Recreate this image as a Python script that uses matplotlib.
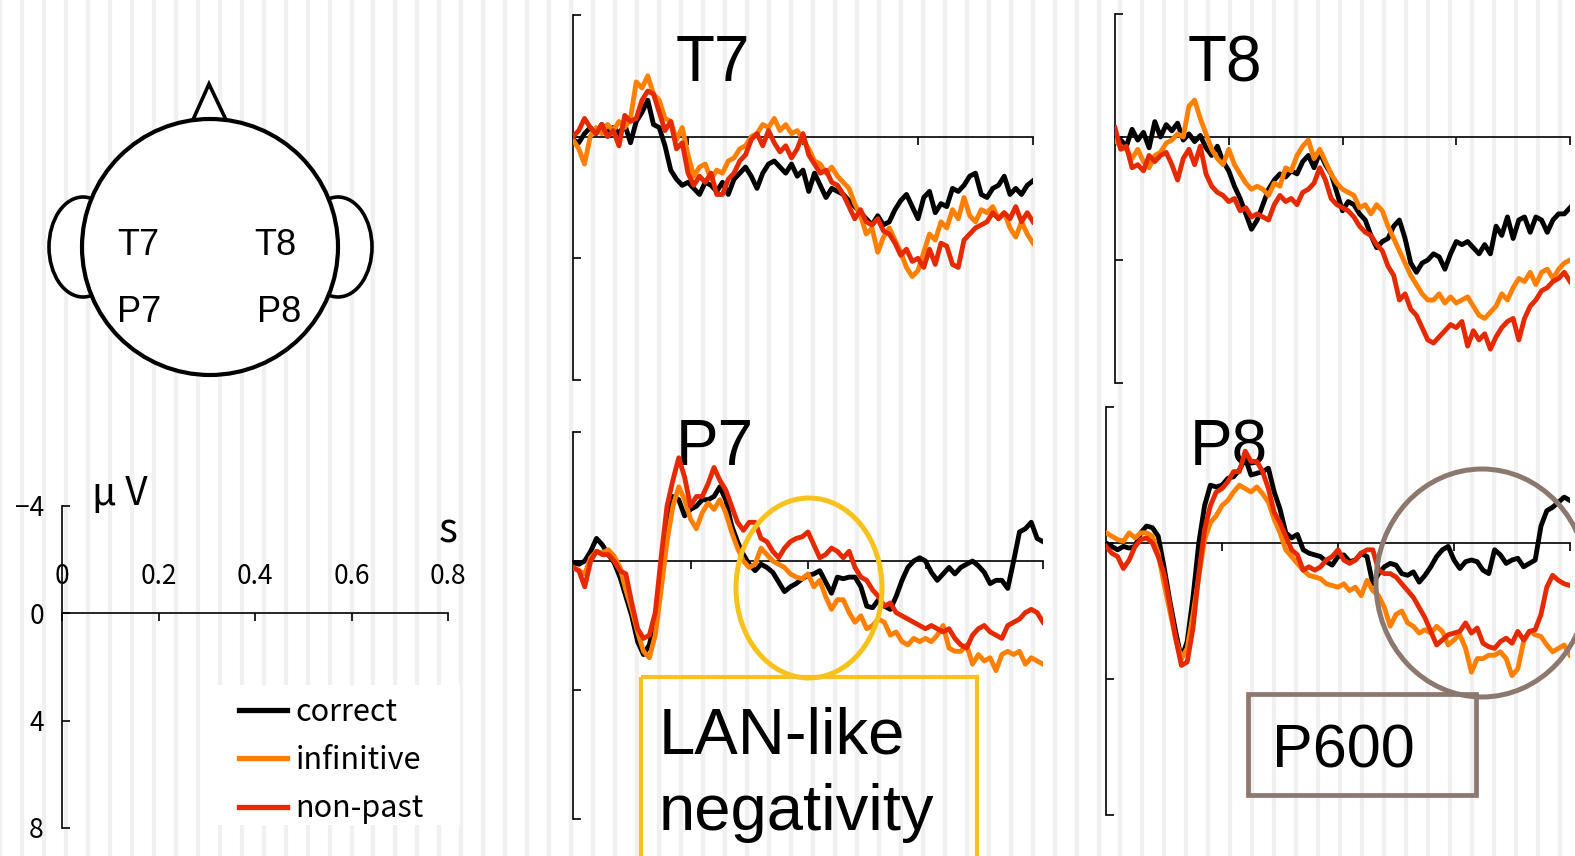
import numpy as np
import matplotlib
matplotlib.use('Agg')
import matplotlib.pyplot as plt
from matplotlib.patches import Ellipse, Rectangle, Polygon
from matplotlib.lines import Line2D

plt.rcParams['font.family'] = ['Liberation Sans', 'DejaVu Sans']
JP = ['Noto Sans CJK JP', 'DejaVu Sans']

W, H = 1575, 856

# time axis (s), one sample every 10 ms
times = np.round(np.arange(81) * 0.01, 2)

conditions = ['correct', 'infinitive', 'non-past']
colors = ['#000000', '#FF8000', '#E62A00']

# amplitudes in microvolts (negative plotted up)
t7_correct = [0.1, 0.2, -0.1, -0.3, -0.1, -0.4, -0.2, -0.3, -0.1, -0.4,
              0.2, -0.5, -0.8, -1.2, -0.4, -0.3, 0.3, 1.1, 1.4, 1.6,
              1.5, 1.7, 1.9, 1.5, 1.6, 1.8, 1.5, 1.9, 1.4, 1.2,
              1.0, 1.3, 1.7, 1.2, 0.9, 0.8, 1.0, 1.2, 0.9, 1.3,
              1.1, 1.8, 1.2, 1.6, 2.0, 1.7, 1.8, 1.9, 2.1, 2.3,
              2.5, 2.7, 2.9, 2.6, 2.9, 2.8, 2.4, 2.1, 1.9, 2.3,
              2.7, 2.0, 1.8, 2.5, 2.2, 2.3, 1.7, 1.8, 1.6, 1.3,
              1.2, 1.9, 2.0, 1.7, 1.6, 1.3, 1.9, 1.7, 1.9, 1.6,
              1.45]
t7_infinitive = [0.1, 0.4, 0.9, 0.0, -0.3, -0.1, -0.4, -0.2, -0.5, -0.3,
                 -0.6, -1.8, -1.6, -2.0, -1.4, -1.2, -0.6, -0.5, 0.1, -0.3,
                 0.6, 1.3, 1.0, 0.9, 1.4, 1.1, 1.2, 0.8, 0.7, 0.4,
                 0.3, 0.0, -0.1, -0.4, -0.3, -0.6, -0.2, -0.4, -0.1, -0.2,
                 0.1, 0.4, 0.8, 0.9, 1.2, 1.0, 1.3, 1.5, 1.7, 2.2,
                 2.6, 3.2, 3.0, 3.8, 3.3, 3.0, 3.4, 3.8, 4.3, 4.6,
                 4.4, 3.8, 3.2, 3.4, 2.8, 3.0, 2.4, 2.7, 2.0, 2.6,
                 2.8, 2.4, 2.5, 2.3, 2.7, 2.5, 3.0, 3.3, 2.8, 3.2,
                 3.5]
t7_nonpast = [0.0, -0.2, -0.6, -0.3, -0.1, -0.4, 0.0, -0.2, 0.3, -0.7,
              -0.5, -0.6, -1.2, -1.5, -1.4, -0.8, -0.2, -0.5, 0.4, 0.2,
              1.2, 1.6, 1.3, 1.5, 1.2, 1.9, 1.9, 1.4, 1.2, 0.8,
              0.6, 0.1, -0.1, 0.3, -0.2, 0.2, 0.5, 0.3, 0.7, 0.4,
              -0.1, 0.6, 0.9, 1.2, 1.1, 1.5, 1.6, 1.9, 2.3, 2.7,
              2.4, 2.8, 2.9, 2.7, 3.1, 3.2, 3.5, 3.9, 3.7, 4.1,
              4.0, 4.3, 3.7, 4.2, 3.5, 3.6, 4.2, 4.3, 3.4, 3.2,
              3.0, 2.9, 2.8, 2.5, 2.7, 2.5, 2.7, 2.3, 2.8, 2.5,
              2.8]

t8_correct = [0.2, 0.1, 0.3, -0.25, 0.1, -0.15, 0.35, -0.5, 0.0, -0.4,
              -0.2, -0.45, 0.1, -0.1, 0.15, -0.05, 0.35, 0.6, 0.3, 0.8,
              1.1, 1.6, 2.0, 2.5, 3.0, 2.7, 2.2, 1.7, 1.4, 1.2,
              1.3, 1.1, 1.2, 0.8, 0.6, 1.0, 0.5, 0.9, 1.2, 1.8,
              2.4, 2.1, 2.2, 2.5, 2.7, 3.2, 3.6, 3.4, 3.3, 2.9,
              2.7, 3.3, 4.1, 4.4, 4.1, 4.0, 3.8, 3.9, 4.3, 3.8,
              3.4, 3.5, 3.4, 3.6, 3.8, 3.5, 3.8, 2.9, 3.2, 2.6,
              3.3, 2.7, 2.6, 3.1, 2.6, 2.7, 3.1, 2.7, 2.5, 2.5,
              2.3]
t8_infinitive = [0.1, 0.3, 0.4, 0.7, 0.4, 0.8, 1.0, 0.6, 0.5, 0.2,
                 0.1, -0.1, 0.0, -1.0, -1.2, -0.6, -0.1, 0.4, 0.7, 0.9,
                 0.4, 0.9, 1.2, 1.5, 1.7, 1.6, 1.7, 1.9, 1.5, 1.6,
                 1.0, 1.1, 0.6, 0.3, 0.1, 0.7, 0.4, 0.8, 1.2, 1.5,
                 1.7, 1.8, 1.9, 2.3, 2.2, 2.5, 2.2, 2.4, 2.9, 3.3,
                 3.7, 4.1, 4.5, 4.8, 5.1, 5.3, 5.3, 5.1, 5.4, 5.2,
                 5.4, 5.3, 5.2, 5.5, 5.8, 5.9, 5.7, 5.5, 5.1, 5.3,
                 4.9, 4.6, 4.7, 4.4, 4.8, 4.4, 4.3, 4.6, 4.3, 4.1,
                 4.0]
t8_nonpast = [-0.3, 0.4, 0.3, 1.0, 0.9, 1.1, 0.6, 0.8, 0.6, 0.5,
              0.9, 1.4, 0.7, 0.4, 0.9, 0.3, 1.2, 1.6, 1.8, 1.9,
              2.1, 2.0, 2.4, 2.3, 2.6, 2.5, 2.6, 2.7, 2.2, 1.9,
              2.1, 2.0, 2.2, 1.8, 1.7, 1.5, 1.0, 1.4, 2.0, 2.2,
              2.3, 2.4, 2.6, 2.9, 3.1, 3.2, 3.5, 3.7, 4.2, 4.5,
              5.3, 5.1, 5.6, 5.8, 6.2, 6.6, 6.7, 6.5, 6.3, 6.1,
              6.2, 6.0, 6.8, 6.3, 6.6, 6.4, 6.9, 6.5, 6.2, 6.0,
              5.9, 6.6, 5.9, 5.5, 5.3, 5.0, 4.9, 4.7, 4.6, 4.4,
              4.7]

p7_correct = [0.05, 0.1, 0.0, -0.3, -0.7, -0.5, -0.2, 0.05, 0.5, 1.1,
              1.7, 2.5, 2.9, 2.6, 1.8, 0.3, -1.3, -2.0, -1.9, -1.4,
              -1.6, -1.7, -1.9, -1.9, -2.0, -2.3, -1.9, -1.1, -0.6, -0.2,
              0.1, 0.3, 0.1, 0.2, 0.35, 0.65, 0.95, 0.8, 0.7, 0.55,
              0.45, 0.4, 0.3, 0.65, 1.0, 0.5, 0.55, 0.5, 0.5, 0.8,
              1.4, 1.45, 1.2, 1.4, 1.5, 1.1, 0.6, 0.2, 0.0, -0.1,
              0.0, 0.35, 0.6, 0.4, 0.2, 0.4, 0.2, 0.1, 0.0, 0.15,
              0.35, 0.7, 0.6, 0.6, 0.85, 0.0, -0.9, -1.0, -1.2, -0.7,
              -0.6]
p7_infinitive = [0.2, 0.3, 0.4, -0.1, -0.3, -0.25, -0.35, -0.15, 0.2, 0.9,
                 1.5, 2.2, 2.8, 3.0, 2.3, 0.9, -0.6, -1.7, -2.3, -1.9,
                 -1.3, -1.0, -1.5, -1.8, -1.6, -1.9, -1.5, -0.9, -0.4, 0.0,
                 0.2, 0.1, -0.4, -0.2, 0.0, 0.1, 0.2, 0.4, 0.5, 0.55,
                 0.4, 0.8, 0.6, 1.1, 1.5, 1.2, 1.2, 1.6, 1.9, 1.7,
                 2.1, 2.0, 1.8, 1.9, 2.3, 2.2, 2.5, 2.6, 2.4, 2.5,
                 2.4, 2.5, 2.3, 2.0, 2.7, 2.8, 2.8, 2.6, 3.2, 2.9,
                 3.1, 3.0, 3.4, 2.9, 2.8, 2.9, 2.8, 3.2, 3.0, 3.1,
                 3.2]
p7_nonpast = [0.2, 0.3, 0.8, 0.0, -0.3, -0.2, -0.2, 0.0, 0.3, 0.4,
              1.3, 2.1, 2.4, 2.3, 1.6, -0.1, -1.7, -2.5, -3.2, -2.6,
              -1.7, -2.0, -2.0, -2.4, -2.9, -2.5, -2.2, -1.7, -1.2, -0.95,
              -1.2, -1.2, -0.7, -0.6, -0.3, -0.1, -0.4, -0.6, -0.7, -0.75,
              -0.9, -0.5, -0.1, -0.2, -0.4, -0.3, -0.1, -0.3, 0.2, 0.5,
              0.6, 0.9, 1.1, 1.4, 1.3, 1.6, 1.7, 1.8, 1.9, 2.0,
              2.1, 2.0, 2.1, 2.2, 2.1, 2.4, 2.6, 2.7, 2.3, 2.1,
              2.0, 2.2, 2.3, 2.4, 2.0, 1.9, 1.8, 1.6, 1.5, 1.6,
              1.9]

p8_correct = [0.0, 0.1, 0.2, 0.1, 0.15, 0.1, -0.3, -0.5, -0.45, -0.2,
              0.7, 1.7, 2.6, 3.4, 2.9, 1.6, 0.0, -1.1, -1.7, -1.65,
              -1.7, -1.9, -1.95, -2.15, -2.5, -2.0, -2.05, -2.1, -2.2, -1.5,
              -1.0, -0.3, -0.15, -0.25, 0.2, 0.3, 0.35, 0.4, 0.55, 0.65,
              0.4, 0.35, 0.55, 0.5, 0.3, 0.4, 1.2, 0.9, 0.7, 0.6,
              0.65, 0.9, 0.95, 0.85, 1.15, 0.95, 0.7, 0.4, 0.2, 0.1,
              0.5, 0.75, 0.55, 0.5, 0.55, 0.8, 0.9, 0.2, 0.35, 0.6,
              0.5, 0.45, 0.7, 0.6, 0.5, -0.5, -0.95, -1.05, -1.2, -1.35,
              -1.25]
p8_infinitive = [-0.3, -0.2, -0.1, -0.05, -0.3, -0.15, -0.3, -0.3, -0.2, 0.3,
                 1.2, 2.0, 2.8, 3.4, 3.1, 2.1, 1.0, -0.1, -0.6, -0.8,
                 -1.1, -1.25, -1.5, -1.7, -1.6, -1.5, -1.65, -1.45, -1.2, -0.7,
                 -0.3, 0.2, 0.4, 0.6, 0.8, 0.95, 1.0, 1.05, 1.2, 1.25,
                 1.3, 1.2, 1.4, 1.3, 1.55, 1.1, 1.4, 1.55, 1.9, 2.45,
                 2.1, 2.0, 2.35, 2.45, 2.65, 2.55, 2.65, 2.45, 2.6, 3.0,
                 2.85, 2.7, 3.1, 3.8, 3.4, 3.4, 3.3, 3.3, 3.2, 3.4,
                 3.9, 3.7, 2.9, 2.6, 2.7, 2.75, 3.0, 3.2, 3.1, 3.0,
                 3.3]
p8_nonpast = [0.1, 0.3, 0.4, 0.75, 0.5, 0.1, -0.1, -0.15, 0.0, 0.4,
              0.9, 1.8, 2.8, 3.6, 3.5, 2.5, 0.9, -0.4, -1.1, -1.5,
              -1.6, -1.8, -2.1, -2.1, -2.7, -2.4, -2.4, -2.1, -1.6, -0.9,
              -0.6, -0.2, 0.2, 0.35, 0.8, 0.7, 0.8, 0.7, 0.5, 0.4,
              0.2, 0.5, 0.6, 0.5, 0.3, 0.2, 0.2, 0.8, 0.9, 0.9,
              1.0, 1.2, 1.4, 1.6, 1.9, 2.2, 2.6, 3.0, 2.85, 2.7,
              2.65, 2.6, 2.35, 2.65, 2.5, 2.95, 3.05, 3.1, 2.9, 2.8,
              2.95, 2.6, 2.85, 2.6, 2.55, 2.1, 1.3, 0.95, 1.1, 1.2,
              1.25]

scale_xticks = [0, 0.2, 0.4, 0.6, 0.8]
scale_xlabels = ['0', '0.2', '0.4', '0.6', '0.8']
scale_yticks = [-4, 0, 4, 8]
scale_ylabels = ['\u22124', '0', '4', '8']


def px_axes(fig, x0, x1, y_top, y_bot, zorder=2):
    """Axes whose t=0..0.8 and -4..8 uV map onto the given pixel box."""
    ax = fig.add_axes([x0 / W, 1 - y_bot / H, (x1 - x0) / W, (y_bot - y_top) / H],
                      zorder=zorder)
    ax.set_xlim(0, 0.8)
    ax.set_ylim(8, -4)
    ax.patch.set_alpha(0)
    ax.spines['right'].set_visible(False)
    ax.spines['top'].set_visible(False)
    ax.spines['bottom'].set_position(('data', 0))
    ax.spines['top'].set_position(('data', 0))
    for side in ['left', 'bottom']:
        ax.spines[side].set_linewidth(1.2)
    ax.set_yticks(scale_yticks)
    ax.tick_params(axis='y', direction='in', length=6, width=1.2)
    ax.tick_params(axis='x', direction='out', length=6, width=1.2)
    return ax


fig = plt.figure(figsize=(W / 100, H / 100), dpi=100)

# background layer in pixel coordinates
bg = fig.add_axes([0, 0, 1, 1], zorder=0)
bg.set_xlim(0, W)
bg.set_ylim(H, 0)
bg.axis('off')
bg.vlines(np.arange(0, W + 22, 21.97), 0, H, colors='#f0f0f0', lw=3, zorder=0)

# head sketch
bg.add_patch(Polygon([[192, 122], [209, 84], [227, 122]], closed=True,
                     facecolor='white', edgecolor='black', lw=2.6, zorder=2))
for cx in [83, 338]:
    bg.add_patch(Ellipse((cx, 247), 68, 100, facecolor='white',
                         edgecolor='black', lw=2.6, zorder=2))
bg.add_patch(Ellipse((210, 247), 256, 256, facecolor='white',
                     edgecolor='black', lw=3, zorder=3))
for name, x, y in [('T7', 117, 255), ('T8', 254, 255), ('P7', 117, 322), ('P8', 257, 322)]:
    bg.text(x, y, name, fontsize=26, va='baseline', ha='left', zorder=4)

# big electrode names (under the waveforms)
for name, x, y in [('T7', 676, 81), ('T8', 1188, 81), ('P7', 676, 465), ('P8', 1190, 465)]:
    bg.text(x, y, name, fontsize=46, va='baseline', ha='left', zorder=4)

# legend background
bg.add_patch(Rectangle((215, 685), 245, 140, facecolor='white', edgecolor='none', zorder=2))

# scale axes
sc = px_axes(fig, 62, 448, 506, 828)
sc.set_xticks(scale_xticks)
sc.set_xticklabels(scale_xlabels, fontfamily=JP, fontsize=19)
sc.tick_params(axis='x', top=False, labeltop=True, labelbottom=False, pad=11)
sc.set_yticklabels(scale_ylabels, fontfamily=JP, fontsize=19)
sc.tick_params(axis='y', pad=13)
sc.text(0.062, -4.05, 'μ V', fontfamily=JP, fontsize=28, va='baseline', ha='left')
sc.text(0.78, -2.65, 's', fontfamily=JP, fontsize=29, va='baseline', ha='left')

handles = [Line2D([], [], color=c, lw=3.8) for c in colors]
fig.legend(handles, conditions, loc='upper left', bbox_to_anchor=(239 / W, 1 - 697 / H),
           frameon=False, prop={'family': JP, 'size': 22}, handlelength=1.58,
           handletextpad=0.26, labelspacing=0.56, borderpad=0, borderaxespad=0)

# ERP panels
panels = [
    (t7_correct, t7_infinitive, t7_nonpast, (573, 1033, 15, 380)),
    (t8_correct, t8_infinitive, t8_nonpast, (1115, 1570, 14, 383)),
    (p7_correct, p7_infinitive, p7_nonpast, (573, 1043, 432, 819)),
    (p8_correct, p8_infinitive, p8_nonpast, (1106, 1570, 407, 815)),
]
for correct, infinitive, nonpast, box in panels:
    ax = px_axes(fig, *box)
    ax.set_xticks([0.2, 0.4, 0.6, 0.8])
    ax.tick_params(labelbottom=False, labelleft=False)
    for series, c in zip([correct, infinitive, nonpast], colors):
        ax.plot(times, series, color=c, lw=3.5, zorder=3)

# annotations on top
top = fig.add_axes([0, 0, 1, 1], zorder=10)
top.set_xlim(0, W)
top.set_ylim(H, 0)
top.axis('off')
top.patch.set_alpha(0)

yellow = '#F8C21C'
brown = '#8C786E'
top.add_patch(Ellipse((809, 588), 146, 180, facecolor='none', edgecolor=yellow, lw=3.6))
top.add_patch(Rectangle((641, 677), 336, 190, facecolor='none', edgecolor=yellow, lw=3))
top.text(659, 753, 'LAN-like', fontsize=47, va='baseline', ha='left')
top.text(659, 830, 'negativity', fontsize=47, va='baseline', ha='left')

top.add_patch(Ellipse((1482, 583), 212, 228, facecolor='none', edgecolor=brown, lw=3.6))
top.add_patch(Rectangle((1248, 694), 228, 101, facecolor='none', edgecolor=brown, lw=3.4))
top.text(1272, 768, 'P600', fontsize=44, va='baseline', ha='left')

fig.savefig('out.png', dpi=100)
